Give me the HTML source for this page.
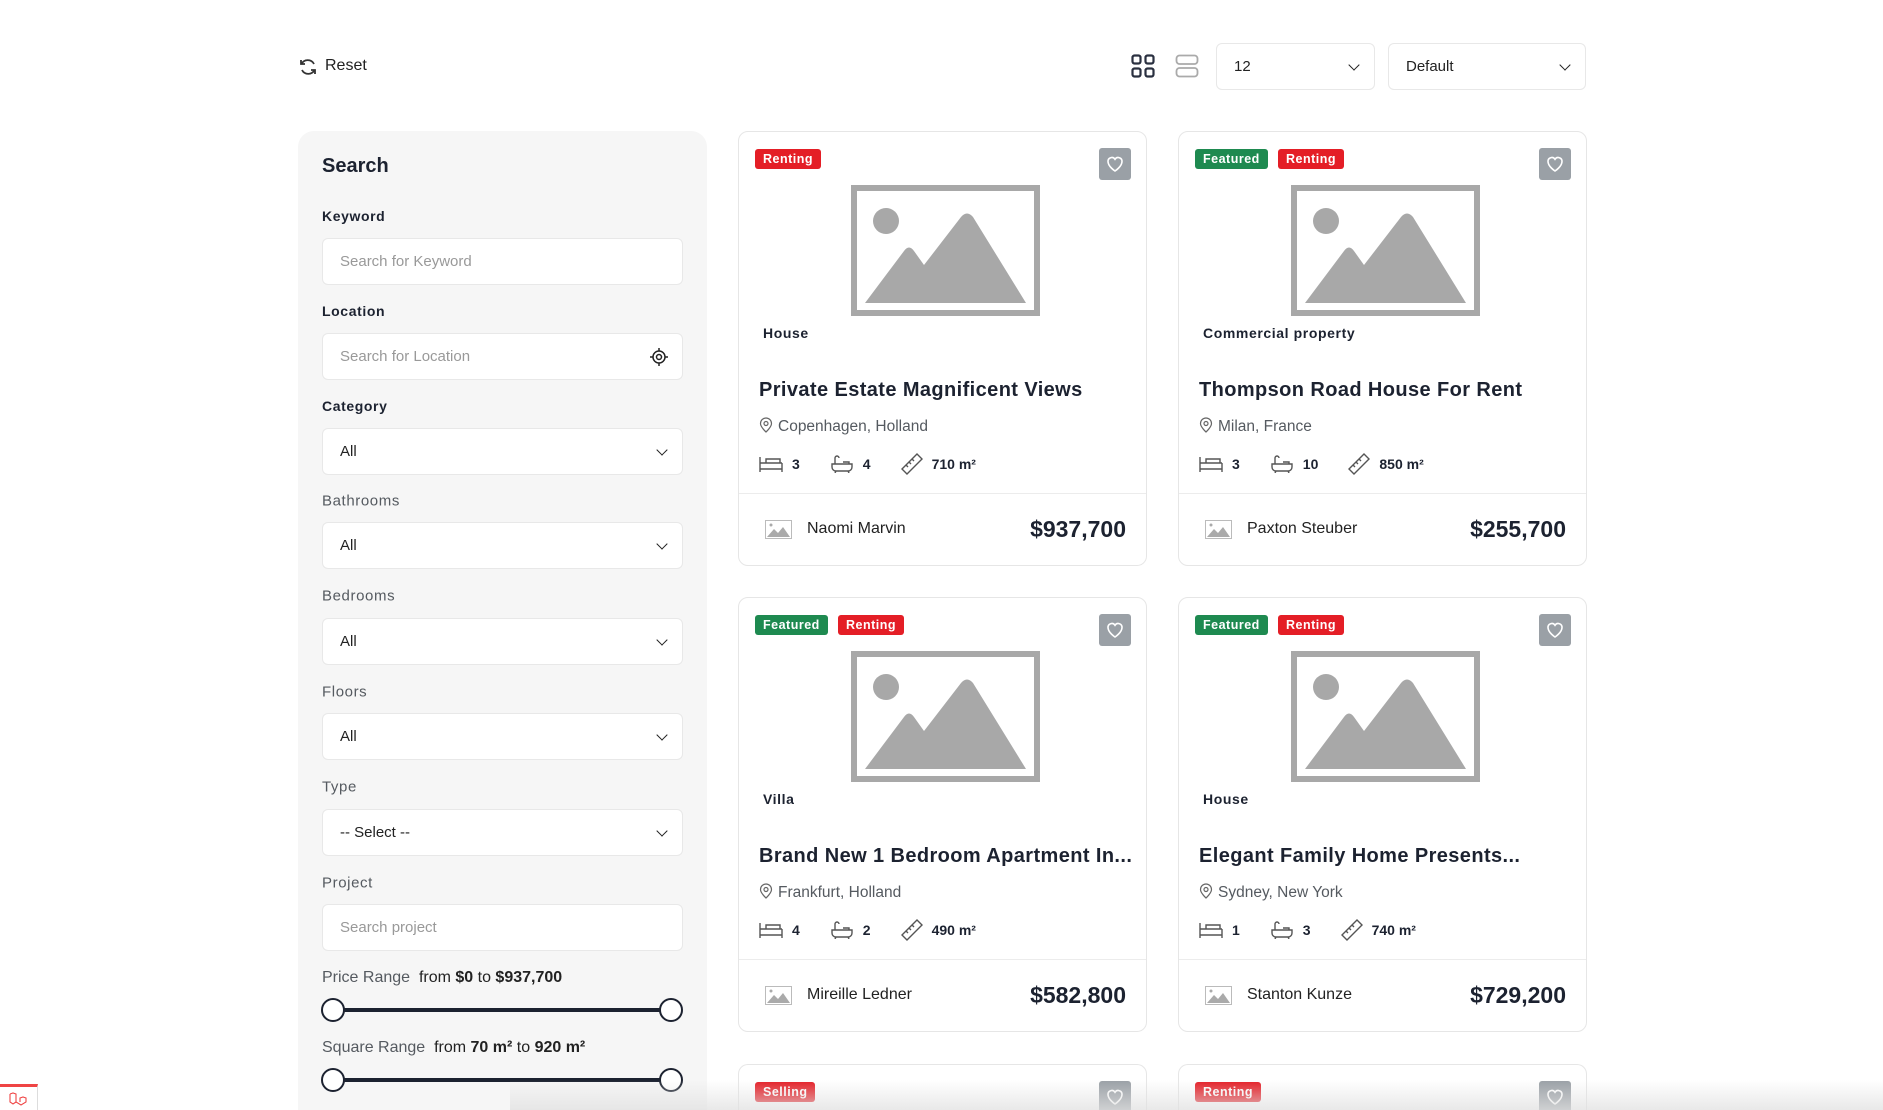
<!DOCTYPE html>
<html><head><meta charset="utf-8">
<style>
*{box-sizing:border-box;margin:0;padding:0}
html{width:1883px;height:1110px;overflow:hidden}
body{width:1883px;height:1110px;overflow:hidden;background:#fff;font-family:"Liberation Sans",sans-serif;color:#1c2230;position:relative}
.abs{position:absolute}
.sb{position:absolute;left:298px;top:131px;width:409px;height:979px;background:#f6f6f6;border-radius:16px 16px 0 0}
.lbl{position:absolute;left:24px;font-size:14px;font-weight:bold;letter-spacing:0.6px;color:#1c2230;transform:translateY(-50%)}
.lbl.g{color:#555a60;font-weight:normal;font-size:15px}
.inp{position:absolute;left:24px;width:361px;height:47px;background:#fff;border:1px solid #e8e8e8;border-radius:6px;font-size:15px;padding-left:17px;line-height:45px;color:#999}
.inp.s{color:#222}
.chev{position:absolute;right:16px;top:17px;width:8px;height:8px;border-right:1.8px solid #222;border-bottom:1.8px solid #222;transform:rotate(45deg)}
.track{position:absolute;left:24px;width:338px;height:4px;background:#1c2230}
.knob{position:absolute;width:24px;height:24px;border:2.5px solid #1c2230;border-radius:50%;background:#fff}
.card{position:absolute;width:409px;height:435px;border:1px solid #e6e6e6;border-radius:10px;background:#fff;overflow:hidden}
.badge{position:absolute;top:17px;height:20px;line-height:20px;padding:0 8px;color:#fff;font-size:12.5px;font-weight:bold;border-radius:3px;letter-spacing:0.5px}
.red{background:#e41e26}.grn{background:#1e8a50}
.heart{position:absolute;left:360px;top:16px;width:32px;height:32px;background:#9aa0a6;border-radius:3px}
.img{position:absolute;left:112px;top:53px;width:189px;height:131px;border:6px solid #a8a8a8}
.cat{position:absolute;left:24px;top:193px;font-size:14px;font-weight:bold;letter-spacing:0.6px}
.ttl{position:absolute;left:20px;top:247px;font-size:20px;font-weight:bold;letter-spacing:0.4px;white-space:nowrap}
.loc{position:absolute;left:20px;top:285px;font-size:15.5px;color:#555a60}
.feat{position:absolute;left:20px;top:321px;display:flex;align-items:center;font-size:14px;font-weight:bold}
.feat svg{margin-right:9px}
.feat span{margin-right:30px}
.div{position:absolute;left:0;right:0;top:361px;border-top:1px solid #ececec}
.av{position:absolute;left:26px;top:388px;width:27px;height:19px}
.name{position:absolute;left:68px;top:388px;font-size:16px;color:#222}
.price{position:absolute;right:20px;top:384px;font-size:23px;font-weight:bold}
</style></head><body>

<svg class="abs" style="left:298px;top:57px" width="20" height="20" viewBox="0 0 20 20" fill="none" stroke="#333" stroke-width="1.8"><path d="M16 7A7 7 0 0 0 3.5 7M4 13a7 7 0 0 0 12.5 0"/><path d="M3 3v4h4M17 17v-4h-4"/></svg>
<div class="abs" style="left:325px;top:57px;font-size:16px;color:#222">Reset</div>

<svg class="abs" style="left:1131px;top:54px" width="24" height="24" viewBox="0 0 24 24" fill="none" stroke="#2a3040" stroke-width="2.2"><rect x="1.5" y="1.5" width="8" height="8" rx="2"/><rect x="14.5" y="1.5" width="8" height="8" rx="2"/><rect x="1.5" y="14.5" width="8" height="8" rx="2"/><rect x="14.5" y="14.5" width="8" height="8" rx="2"/></svg>
<svg class="abs" style="left:1175px;top:54px" width="24" height="24" viewBox="0 0 24 24" fill="none" stroke="#aaa" stroke-width="1.8"><rect x="1.5" y="1.5" width="21" height="8.5" rx="3"/><rect x="1.5" y="14" width="21" height="8.5" rx="3"/></svg>
<div class="inp s" style="left:1216px;top:43px;width:159px;height:47px">12<div class="chev"></div></div>
<div class="inp s" style="left:1388px;top:43px;width:198px;height:47px">Default<div class="chev"></div></div>

<div class="sb">
<div class="abs" style="left:24px;top:24px;font-size:20px;font-weight:bold">Search</div>
<div class="lbl" style="top:85px">Keyword</div>
<div class="inp" style="top:107px">Search for Keyword</div>
<div class="lbl" style="top:180px">Location</div>
<div class="inp" style="top:202px">Search for Location
<svg class="abs" style="right:14px;top:14px" width="18" height="18" viewBox="0 0 18 18" fill="none" stroke="#222" stroke-width="1.5"><circle cx="9" cy="9" r="6"/><circle cx="9" cy="9" r="2.5"/><path d="M9 0v3M9 15v3M0 9h3M15 9h3"/></svg></div>
<div class="lbl" style="top:275px">Category</div>
<div class="inp s" style="top:297px">All<div class="chev"></div></div>
<div class="lbl g" style="top:370px">Bathrooms</div>
<div class="inp s" style="top:391px">All<div class="chev"></div></div>
<div class="lbl g" style="top:465px">Bedrooms</div>
<div class="inp s" style="top:487px">All<div class="chev"></div></div>
<div class="lbl g" style="top:561px">Floors</div>
<div class="inp s" style="top:582px">All<div class="chev"></div></div>
<div class="lbl g" style="top:656px">Type</div>
<div class="inp s" style="top:678px">-- Select --<div class="chev"></div></div>
<div class="lbl g" style="top:752px">Project</div>
<div class="inp" style="top:773px">Search project</div>
<div class="abs" style="left:24px;top:838px;font-size:16px;color:#555a60">Price Range &nbsp;<span style="color:#222">from <b>$0</b> to <b>$937,700</b></span></div>
<div class="track" style="top:877px"></div>
<div class="knob" style="left:23px;top:867px"></div><div class="knob" style="left:361px;top:867px"></div>
<div class="abs" style="left:24px;top:908px;font-size:16px;color:#555a60">Square Range &nbsp;<span style="color:#222">from <b>70 m²</b> to <b>920 m²</b></span></div>
<div class="track" style="top:947px"></div>
<div class="knob" style="left:23px;top:937px"></div><div class="knob" style="left:361px;top:937px"></div>
</div>

<svg width="0" height="0" style="position:absolute"><defs>
<symbol id="ph" viewBox="0 0 177 119"><rect width="177" height="119" fill="#fff"/><circle cx="29" cy="30" r="13" fill="#a8a8a8"/><path d="M8 112 L47 60 Q52 53 57 60 L67 74 L104 26 Q110 19 116 26 L169 112Z" fill="#a8a8a8"/></symbol>
<symbol id="bed" viewBox="0 0 24 18"><path d="M1 2v15M23 8v9M1 8h22M1 14h22M7 8V4h14v4" fill="none" stroke="#555" stroke-width="1.4"/></symbol>
<symbol id="bath" viewBox="0 0 24 18"><path d="M2 9h20v3a4 4 0 0 1-4 4H6a4 4 0 0 1-4-4zM5 9V3a2 2 0 0 1 4 0M6 16l-1 2M18 16l1 2M13 7h6v2" fill="none" stroke="#555" stroke-width="1.4"/></symbol>
<symbol id="rul" viewBox="0 0 22 22"><path d="M1 16L16 1l5 5L6 21z M5 12l2 2M8 9l2 2M11 6l2 2" fill="none" stroke="#555" stroke-width="1.4"/></symbol>
<symbol id="pin" viewBox="0 0 14 16"><path d="M7 15s-5.5-5-5.5-8.5a5.5 5.5 0 0 1 11 0C12.5 10 7 15 7 15z" fill="none" stroke="#666" stroke-width="1.2"/><circle cx="7" cy="6.5" r="2" fill="none" stroke="#666" stroke-width="1.2"/></symbol>
<symbol id="av" viewBox="0 0 27 19"><rect x="0.5" y="0.5" width="26" height="18" fill="#fff" stroke="#bbb"/><circle cx="6" cy="5" r="1.5" fill="#aaa"/><path d="M2 17l7-8 4 4 5-6 7 10z" fill="#aaa"/></symbol>
</defs></svg>

<div class="card" style="left:738px;top:131px">
<div class="badge red" style="left:16px">Renting</div>
<svg class="heart" viewBox="0 0 32 32"><path d="M16 23s-7-4.5-7-9.5a3.8 3.8 0 0 1 7-2.2 3.8 3.8 0 0 1 7 2.2c0 5-7 9.5-7 9.5z" fill="none" stroke="#fff" stroke-width="1.6"/></svg>
<div class="img"><svg width="177" height="119"><use href="#ph"/></svg></div>
<div class="cat">House</div>
<div class="ttl">Private Estate Magnificent Views</div>
<div class="loc"><svg width="14" height="16" style="vertical-align:-2px;margin-right:5px"><use href="#pin"/></svg>Copenhagen, Holland</div>
<div class="feat"><svg width="24" height="18"><use href="#bed"/></svg><span>3</span><svg width="24" height="18"><use href="#bath"/></svg><span>4</span><svg width="22" height="22"><use href="#rul"/></svg><span>710 m²</span></div>
<div class="div"></div>
<svg class="av"><use href="#av"/></svg><div class="name">Naomi Marvin</div><div class="price">$937,700</div>
</div>

<div class="card" style="left:1178px;top:131px">
<div class="badge grn" style="left:16px">Featured</div><div class="badge red" style="left:99px">Renting</div>
<svg class="heart" viewBox="0 0 32 32"><path d="M16 23s-7-4.5-7-9.5a3.8 3.8 0 0 1 7-2.2 3.8 3.8 0 0 1 7 2.2c0 5-7 9.5-7 9.5z" fill="none" stroke="#fff" stroke-width="1.6"/></svg>
<div class="img"><svg width="177" height="119"><use href="#ph"/></svg></div>
<div class="cat">Commercial property</div>
<div class="ttl">Thompson Road House For Rent</div>
<div class="loc"><svg width="14" height="16" style="vertical-align:-2px;margin-right:5px"><use href="#pin"/></svg>Milan, France</div>
<div class="feat"><svg width="24" height="18"><use href="#bed"/></svg><span>3</span><svg width="24" height="18"><use href="#bath"/></svg><span>10</span><svg width="22" height="22"><use href="#rul"/></svg><span>850 m²</span></div>
<div class="div"></div>
<svg class="av"><use href="#av"/></svg><div class="name">Paxton Steuber</div><div class="price">$255,700</div>
</div>

<div class="card" style="left:738px;top:597px">
<div class="badge grn" style="left:16px">Featured</div><div class="badge red" style="left:99px">Renting</div>
<svg class="heart" viewBox="0 0 32 32"><path d="M16 23s-7-4.5-7-9.5a3.8 3.8 0 0 1 7-2.2 3.8 3.8 0 0 1 7 2.2c0 5-7 9.5-7 9.5z" fill="none" stroke="#fff" stroke-width="1.6"/></svg>
<div class="img"><svg width="177" height="119"><use href="#ph"/></svg></div>
<div class="cat">Villa</div>
<div class="ttl">Brand New 1 Bedroom Apartment In...</div>
<div class="loc"><svg width="14" height="16" style="vertical-align:-2px;margin-right:5px"><use href="#pin"/></svg>Frankfurt, Holland</div>
<div class="feat"><svg width="24" height="18"><use href="#bed"/></svg><span>4</span><svg width="24" height="18"><use href="#bath"/></svg><span>2</span><svg width="22" height="22"><use href="#rul"/></svg><span>490 m²</span></div>
<div class="div"></div>
<svg class="av"><use href="#av"/></svg><div class="name">Mireille Ledner</div><div class="price">$582,800</div>
</div>

<div class="card" style="left:1178px;top:597px">
<div class="badge grn" style="left:16px">Featured</div><div class="badge red" style="left:99px">Renting</div>
<svg class="heart" viewBox="0 0 32 32"><path d="M16 23s-7-4.5-7-9.5a3.8 3.8 0 0 1 7-2.2 3.8 3.8 0 0 1 7 2.2c0 5-7 9.5-7 9.5z" fill="none" stroke="#fff" stroke-width="1.6"/></svg>
<div class="img"><svg width="177" height="119"><use href="#ph"/></svg></div>
<div class="cat">House</div>
<div class="ttl">Elegant Family Home Presents...</div>
<div class="loc"><svg width="14" height="16" style="vertical-align:-2px;margin-right:5px"><use href="#pin"/></svg>Sydney, New York</div>
<div class="feat"><svg width="24" height="18"><use href="#bed"/></svg><span>1</span><svg width="24" height="18"><use href="#bath"/></svg><span>3</span><svg width="22" height="22"><use href="#rul"/></svg><span>740 m²</span></div>
<div class="div"></div>
<svg class="av"><use href="#av"/></svg><div class="name">Stanton Kunze</div><div class="price">$729,200</div>
</div>

<div class="card" style="left:738px;top:1064px;height:46px;border-radius:10px 10px 0 0;border-bottom:none">
<div class="badge red" style="left:16px">Selling</div>
<svg class="heart" viewBox="0 0 32 32"><path d="M16 23s-7-4.5-7-9.5a3.8 3.8 0 0 1 7-2.2 3.8 3.8 0 0 1 7 2.2c0 5-7 9.5-7 9.5z" fill="none" stroke="#fff" stroke-width="1.6"/></svg>
</div>
<div class="card" style="left:1178px;top:1064px;height:46px;border-radius:10px 10px 0 0;border-bottom:none">
<div class="badge red" style="left:16px">Renting</div>
<svg class="heart" viewBox="0 0 32 32"><path d="M16 23s-7-4.5-7-9.5a3.8 3.8 0 0 1 7-2.2 3.8 3.8 0 0 1 7 2.2c0 5-7 9.5-7 9.5z" fill="none" stroke="#fff" stroke-width="1.6"/></svg>
</div>

<div class="abs" style="left:510px;top:1080px;width:1373px;height:30px;background:linear-gradient(rgba(255,255,255,0),rgba(225,225,225,0.75))"></div>
<div class="abs" style="left:0;top:1084px;width:38px;height:26px;background:#fff;border-top:3px solid #ef4444;border-right:1px solid #ddd"></div>
<svg class="abs" style="left:8px;top:1092px" width="20" height="16" viewBox="0 0 20 16" fill="none" stroke="#ef4444" stroke-width="1.1"><path d="M2 2l3-1 3 1v8l5 3 5-3V6l-3-1-3 1v4M8 10l-3 2-3-2V2"/></svg>
</body></html>
